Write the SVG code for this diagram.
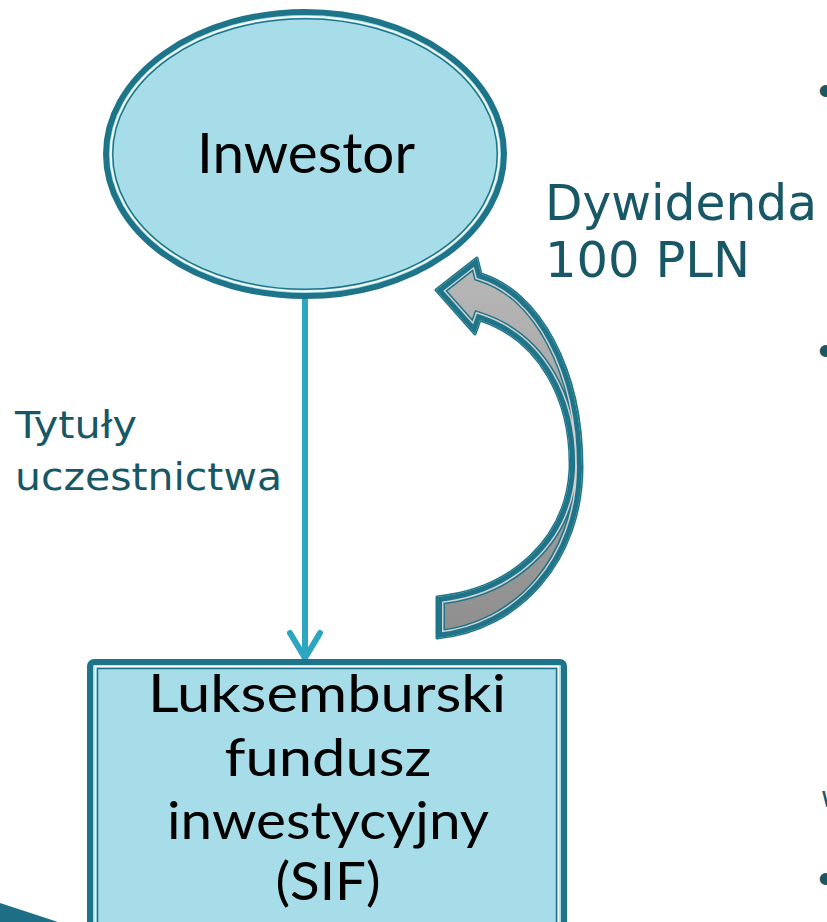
<svg xmlns="http://www.w3.org/2000/svg" width="827" height="922" viewBox="0 0 827 922">
<style>
.node-fill{fill:#a6dde9}
.teal-thick{fill:none;stroke:#1e7589;stroke-width:6}
.white-line{fill:none;stroke:#ffffff;stroke-width:1.5}
.teal-thin{fill:none;stroke:#1e7589;stroke-width:1.5}
.node-text{font-family:Lato,"Open Sans",sans-serif;fill:#000000;text-anchor:middle}
.label{font-family:"DejaVu Sans","Liberation Sans",sans-serif;fill:#175766}
</style>
<defs>
<linearGradient id="grayGrad" x1="0" y1="0" x2="0" y2="1">
<stop offset="0" stop-color="#b8b8b8"/>
<stop offset="1" stop-color="#8e8e8e"/>
</linearGradient>
<path id="curvedArrow" d="M436,290 L477,258 L481,274 C540,292 582,370 582,467 C582,560 520,630 437,638 L437,597 C510,590 566,540 570,470 C572,400 540,340 480,320 L475,334 Z"/>
<clipPath id="arrowClip"><use href="#curvedArrow"/></clipPath>
</defs>

<!-- bottom-left decoration -->
<polygon points="0,903 58,922 0,922" fill="#1e6f85"/>

<g id="connectors">
<line x1="305" y1="287" x2="305" y2="656" stroke="#2ea5c1" stroke-width="6"/>
<polyline points="290,633 305,658 320,633" fill="none" stroke="#2ea5c1" stroke-width="6" stroke-linecap="round" stroke-linejoin="round"/>
<g id="dividend-arrow">
<use href="#curvedArrow" fill="none" stroke="#1e7589" stroke-width="3" stroke-linejoin="round"/>
<use href="#curvedArrow" fill="url(#grayGrad)"/>
<g clip-path="url(#arrowClip)">
<use href="#curvedArrow" fill="none" stroke="#1e7589" stroke-width="16"/>
<use href="#curvedArrow" fill="none" stroke="#cfcfcf" stroke-width="13"/>
<use href="#curvedArrow" fill="none" stroke="#1e7589" stroke-width="10"/>
</g>
</g>
</g>

<g id="investor">
<ellipse cx="305" cy="154" rx="199" ry="142" class="node-fill"/>
<ellipse cx="305" cy="154" rx="199" ry="142" class="teal-thick"/>
<ellipse cx="305" cy="154" rx="194.3" ry="137.3" class="white-line"/>
<ellipse cx="305" cy="154" rx="192.3" ry="135.3" class="teal-thin"/>
<text x="306" y="173" class="node-text" font-size="56" textLength="218" lengthAdjust="spacingAndGlyphs">Inwestor</text>
</g>

<g id="fund">
<rect x="90" y="662" width="474" height="300" rx="4" class="node-fill"/>
<rect x="90" y="662" width="474" height="300" rx="4" class="teal-thick"/>
<rect x="95.5" y="666.5" width="463" height="290" class="white-line"/>
<rect x="97.5" y="668.5" width="459" height="286" class="teal-thin"/>
<text x="327" y="712" class="node-text" font-size="52" textLength="358" lengthAdjust="spacingAndGlyphs">Luksemburski</text>
<text x="328" y="776" class="node-text" font-size="52" textLength="207" lengthAdjust="spacingAndGlyphs">fundusz</text>
<text x="328" y="839" class="node-text" font-size="52" textLength="322" lengthAdjust="spacingAndGlyphs">inwestycyjny</text>
<text x="328" y="900" class="node-text" font-size="52" textLength="105" lengthAdjust="spacingAndGlyphs">(SIF)</text>
</g>

<g id="labels">
<text x="15" y="438" class="label" font-size="37" textLength="122" lengthAdjust="spacingAndGlyphs">Tytuły</text>
<text x="15" y="490" class="label" font-size="37" textLength="267" lengthAdjust="spacingAndGlyphs">uczestnictwa</text>
<text x="545" y="220" class="label" font-size="49" textLength="272" lengthAdjust="spacingAndGlyphs">Dywidenda</text>
<text x="545" y="277" class="label" font-size="49" textLength="205" lengthAdjust="spacingAndGlyphs">100 PLN</text>
</g>

<g id="cut-off-text" class="label">
<text x="818" y="106" font-size="44" font-family="Liberation Sans, sans-serif">•</text>
<text x="818" y="366" font-size="44" font-family="Liberation Sans, sans-serif">•</text>
<text x="821" y="807" font-size="28">w</text>
<text x="818" y="894" font-size="44" font-family="Liberation Sans, sans-serif">•</text>
</g>
</svg>
